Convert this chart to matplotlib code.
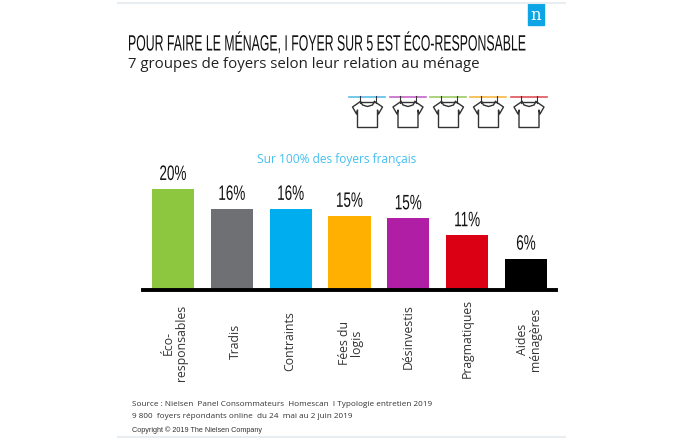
import matplotlib
matplotlib.use('Agg')
import matplotlib.pyplot as plt
from matplotlib.patches import Rectangle
from matplotlib.patheffects import AbstractPathEffect
from matplotlib.transforms import Affine2D

# data
categories = ['Éco-\nresponsables', 'Tradis', 'Contraints', 'Fées du\nlogis',
              'Désinvestis', 'Pragmatiques', 'Aides\nménagères']
heights = [20, 16, 16, 14.6, 14.1, 10.7, 6]
labels = ['20%', '16%', '16%', '15%', '15%', '11%', '6%']
colors = ['#8dc63f', '#6f7074', '#00aeef', '#ffb000', '#b01ea5', '#dc0014', '#000000']
line_colors = ['#5bbfe8', '#c566c9', '#9ccc65', '#f5b942', '#e2515c']

W, H = 680, 442


class Tall(AbstractPathEffect):
    # no condensed font installed, so stretch the text upwards from its baseline
    def __init__(self, y0, sy):
        super().__init__()
        self.y0 = y0
        self.sy = sy

    def draw_path(self, renderer, gc, tpath, affine, rgbFace=None):
        t = affine + Affine2D().translate(0, -self.y0).scale(1, self.sy).translate(0, self.y0)
        renderer.draw_path(gc, tpath, t, rgbFace)


fig = plt.figure(figsize=(W / 100, H / 100), dpi=100, facecolor='white')

# overlay in pixel coordinates for the furniture
bg = fig.add_axes([0, 0, 1, 1])
bg.set_xlim(0, W)
bg.set_ylim(H, 0)
bg.axis('off')

bg.plot([118, 565], [2.5, 2.5], color='#e8edf2', lw=1.5)
bg.plot([118, 565], [437, 437], color='#e8edf2', lw=1.5)

# logo
bg.add_patch(Rectangle((528, 2.5), 16, 22.5, color='#0ea5e6'))
bg.text(536, 15.5, 'n', color='white', fontsize=12, family='DejaVu Serif', ha='center', va='center')

title = bg.text(128, 50.5, 'POUR FAIRE LE MÉNAGE, I FOYER SUR 5 EST ÉCO-RESPONSABLE',
                family='Liberation Sans', fontsize=8.85, color='#111111', va='baseline')
title.set_path_effects([Tall(H - 50.5, 1.8)])
bg.text(128, 68, '7 groupes de foyers selon leur relation au ménage',
        family='Open Sans', fontsize=10.8, color='#222222', va='baseline')
bg.text(337, 159, 'Sur 100% des foyers français', family='Open Sans', fontsize=8.6,
        color='#45c0f0', ha='center', va='center')

# t-shirts on the washing line
for x0, c in zip([349, 389.5, 430, 470, 510.5], line_colors):
    bg.plot([x0, x0 + 36], [97, 97], color=c, lw=1.2)
    cx = x0 + 18.5
    xs = [cx - 7, cx - 15, cx - 11, cx - 10, cx - 10, cx + 10, cx + 10, cx + 11, cx + 15, cx + 7]
    ys = [101.5, 107, 114, 110, 127.5, 127.5, 110, 114, 107, 101.5]
    bg.plot(xs, ys, color='#333333', lw=1)
    bg.plot([cx - 7, cx - 5, cx, cx + 5, cx + 7], [101.5, 105, 106.5, 105, 101.5], color='#333333', lw=1)
    bg.plot([cx - 7, cx + 7], [101.5, 101.5], color='#333333', lw=1)
    bg.plot([cx - 8, cx - 8], [95.5, 103], color='#333333', lw=0.8)
    bg.plot([cx + 8, cx + 8], [95.5, 103], color='#333333', lw=0.8)

bg.text(132, 405, 'Source : Nielsen  Panel Consommateurs  Homescan  I Typologie entretien 2019',
        family='Open Sans', fontsize=5.85, color='#333333', va='center')
bg.text(132, 416, '9 800  foyers répondants online  du 24  mai au 2 juin 2019',
        family='Open Sans', fontsize=5.85, color='#333333', va='center')
bg.text(132, 430, 'Copyright © 2019 The Nielsen Company',
        family='Liberation Sans', fontsize=5.2, color='#333333', va='center')

# the chart itself
ax = fig.add_axes([143 / W, 1 - 288.5 / H, 413 / W, 99.5 / H])
ax.patch.set_alpha(0)
ax.bar(range(len(heights)), heights, width=0.715, color=colors)
ax.set_xlim(-0.51, 6.51)
ax.set_ylim(0, 20)
for s in ['top', 'left', 'right']:
    ax.spines[s].set_visible(False)
ax.spines['bottom'].set_linewidth(2.8)
ax.spines['bottom'].set_position(('outward', 1.2))
ax.set_yticks([])
ax.set_xticks(range(len(categories)))
ax.set_xticklabels(categories, rotation=90, family='Open Sans', fontsize=8.8,
                   color='#333333', linespacing=1.0, va='center')
ax.tick_params(axis='x', length=0, pad=38)

# the labels in the original are placed by hand, not on a common line
nudges = [(2, 0), (4, 2), (-1, 2), (1, 0), (0, 6), (0, 5), (3, 4)]
for lab, (dx, dy) in zip(ax.get_xticklabels(), nudges):
    lab.set_transform(lab.get_transform() + Affine2D().translate(dx, dy))

for i, (h, lab) in enumerate(zip(heights, labels)):
    t = ax.annotate(lab, (i, h), xytext=(0, 6.5), textcoords='offset points',
                    ha='center', va='baseline', family='Liberation Sans',
                    fontsize=9.7, color='#111111')
    base = ax.transData.transform((i, h))[1] + 9
    t.set_path_effects([Tall(base, 1.55)])

fig.savefig('out.png', dpi=100)
